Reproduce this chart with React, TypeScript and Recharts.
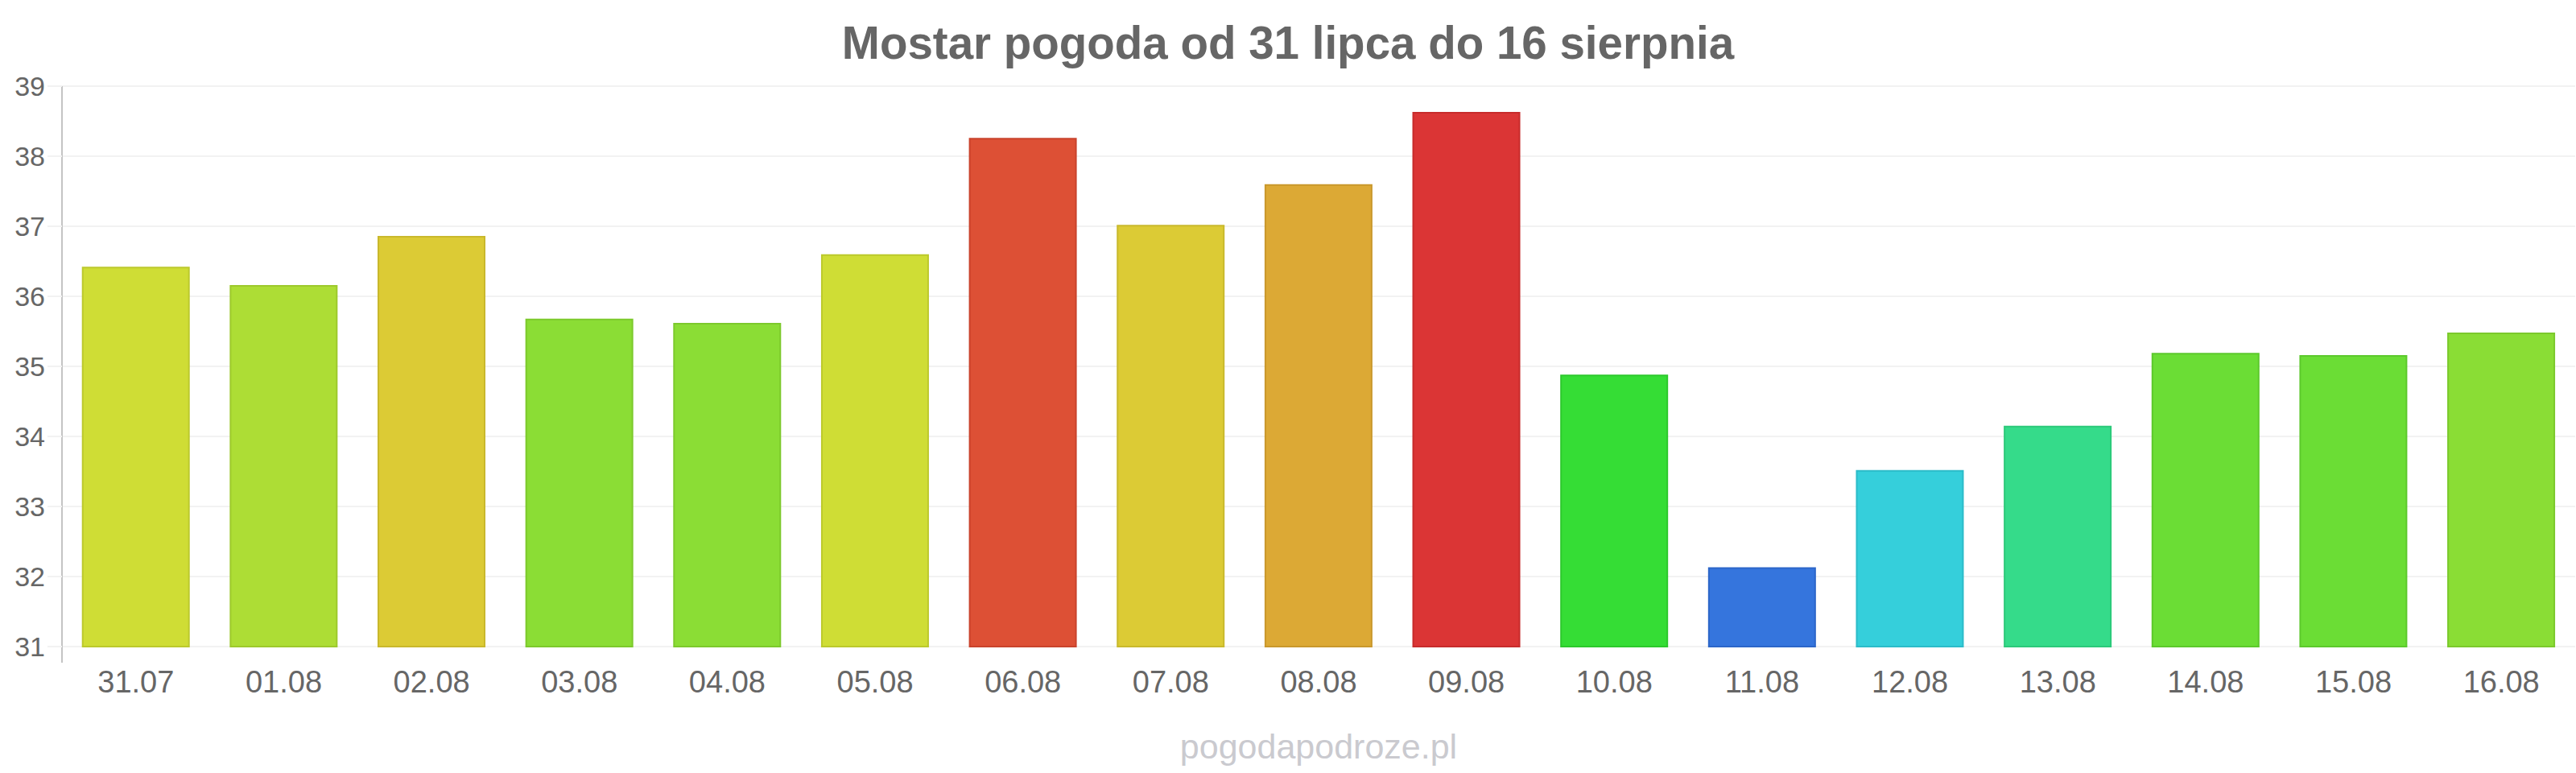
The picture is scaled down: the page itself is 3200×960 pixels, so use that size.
import { Bar, BarChart, CartesianGrid, Cell, XAxis, YAxis } from "recharts"

// days shown on the x axis
const days = [
  "31.07", "01.08", "02.08", "03.08", "04.08", "05.08", "06.08", "07.08", "08.08",
  "09.08", "10.08", "11.08", "12.08", "13.08", "14.08", "15.08", "16.08",
]

// max temperature per day (°C)
const temps = [
  36.41, 36.15, 36.85, 35.67, 35.61, 36.59, 38.25, 37.01, 37.59,
  38.62, 34.87, 32.12, 33.51, 34.14, 35.18, 35.15, 35.47,
]

const fills = [
  "#cfdd35", "#addd35", "#dccb35", "#8bdd35", "#8bdd35", "#cfdd35", "#dd5035", "#dccb35", "#dca935",
  "#db3535", "#35dd35", "#3575dd", "#35cfdb", "#35db8a", "#6bdd35", "#6bdd35", "#8add35",
]

const strokes = [
  "#bcc92c", "#9dc92c", "#c9b82c", "#7cc92c", "#7cc92c", "#bcc92c", "#c9432c", "#c9b92c", "#c9982c",
  "#c72c2c", "#2cc92c", "#2c66c9", "#2cbcc9", "#2cc97a", "#5cc92c", "#5cc92c", "#7bc92c",
]

const yTicks = [31, 32, 33, 34, 35, 36, 37, 38, 39]

const data = days.map((day, i) => ({ day, temp: temps[i] }))

const font = "'Liberation Sans', Arial, sans-serif"

export default function App() {
  return (
    <div style={{ position: "relative", width: 3200, height: 960, fontFamily: font, background: "#fff" }}>
      <style>{"body{margin:0}"}</style>
      <div
        style={{
          position: "absolute",
          left: 0,
          top: 26,
          width: 3200,
          textAlign: "center",
          fontSize: 56.5,
          lineHeight: 1,
          fontWeight: "bold",
          color: "#666666",
        }}
      >
        Mostar pogoda od 31 lipca do 16 sierpnia
      </div>
      <BarChart
        width={3200}
        height={960}
        data={data}
        barCategoryGap="14%"
        margin={{ top: 107, right: 1, left: 0, bottom: 77 }}
        style={{ fontFamily: font }}
      >
        {/* syncWithTicks: no extra line at the padded bottom edge */}
        <CartesianGrid vertical={false} stroke="#f2f2f2" strokeWidth={2} syncWithTicks />
        <XAxis
          dataKey="day"
          interval={0}
          height={60}
          tickLine={false}
          axisLine={false}
          tickMargin={4}
          tick={{ fill: "#666666", fontSize: 38 }}
        />
        <YAxis
          width={77}
          domain={[31, 39]}
          ticks={yTicks}
          interval={0}
          padding={{ top: 0, bottom: 20 }}
          tickSize={18}
          tickMargin={3}
          tickLine={{ stroke: "#f2f2f2", strokeWidth: 2 }}
          axisLine={{ stroke: "#c4c4c4", strokeWidth: 2 }}
          tick={{ fill: "#666666", fontSize: 34 }}
        />
        <Bar dataKey="temp" isAnimationActive={false} strokeWidth={2}>
          {data.map((d, i) => (
            <Cell key={d.day} fill={fills[i]} stroke={strokes[i]} />
          ))}
        </Bar>
      </BarChart>
      <div
        style={{
          position: "absolute",
          left: 77,
          width: 3122,
          top: 906,
          textAlign: "center",
          fontSize: 43,
          lineHeight: 1,
          color: "#cacacf",
        }}
      >
        pogodapodroze.pl
      </div>
    </div>
  )
}
